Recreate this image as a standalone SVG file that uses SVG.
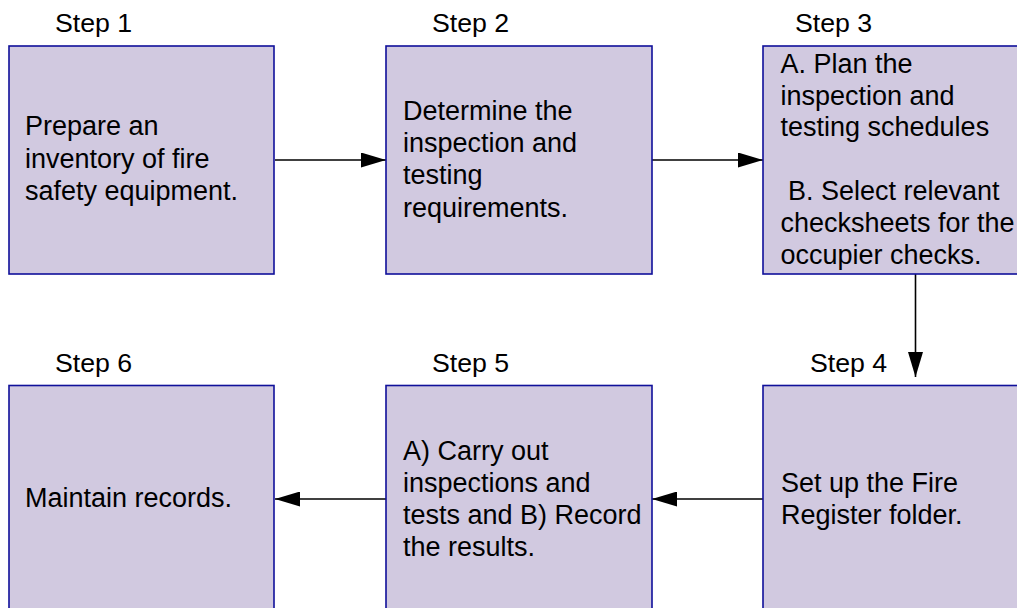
<svg xmlns="http://www.w3.org/2000/svg" width="1017" height="608" viewBox="0 0 1017 608">
<style>
.box{fill:#D1C9E0;stroke:#10109A;stroke-width:1.6}
.t{font-family:"Liberation Sans",Arial,sans-serif;font-size:27px;fill:#000}
.l{font-family:"Liberation Sans",Arial,sans-serif;font-size:26.7px;fill:#000}
.c{stroke:#000;stroke-width:1.6;fill:none}
</style>
<defs>
<marker id="ah" markerWidth="25" markerHeight="15" refX="25" refY="7.5" orient="auto" markerUnits="userSpaceOnUse">
<path d="M0,0 L25,7.5 L0,15 Z" fill="#000"/>
</marker>
</defs>
<rect width="1017" height="608" fill="#fff"/>
<g id="connectors">
<line class="c" x1="275" y1="160" x2="386" y2="160" marker-end="url(#ah)"/>
<line class="c" x1="652" y1="160" x2="763" y2="160" marker-end="url(#ah)"/>
<line class="c" x1="915.5" y1="274" x2="915.5" y2="377" marker-end="url(#ah)"/>
<line class="c" x1="763" y1="499" x2="652" y2="499" marker-end="url(#ah)"/>
<line class="c" x1="386" y1="499" x2="275" y2="499" marker-end="url(#ah)"/>
</g>
<g id="step1">
<text class="l" x="55" y="32">Step 1</text>
<rect class="box" x="9" y="46" width="265" height="228"/>
<text class="t" x="25" y="135">Prepare an</text>
<text class="t" x="25" y="167.5">inventory of fire</text>
<text class="t" x="25" y="200">safety equipment.</text>
</g>
<g id="step2">
<text class="l" x="432" y="32">Step 2</text>
<rect class="box" x="386" y="46" width="266" height="228"/>
<text class="t" x="403" y="119.5">Determine the</text>
<text class="t" x="403" y="152">inspection and</text>
<text class="t" x="403" y="184">testing</text>
<text class="t" x="403" y="216.5">requirements.</text>
</g>
<g id="step3">
<text class="l" x="795" y="32">Step 3</text>
<rect class="box" x="763" y="46" width="270" height="228"/>
<text class="t" x="780.5" y="72.5">A. Plan the</text>
<text class="t" x="780.5" y="104.5">inspection and</text>
<text class="t" x="780.5" y="136">testing schedules</text>
<text class="t" x="780.5" y="200" xml:space="preserve"> B. Select relevant</text>
<text class="t" x="780.5" y="231.5">checksheets for the</text>
<text class="t" x="780.5" y="263.5">occupier checks.</text>
</g>
<g id="step4">
<text class="l" x="810" y="372">Step 4</text>
<rect class="box" x="763" y="385.5" width="270" height="240"/>
<text class="t" x="781" y="492">Set up the Fire</text>
<text class="t" x="781" y="524">Register folder.</text>
</g>
<g id="step5">
<text class="l" x="432" y="372">Step 5</text>
<rect class="box" x="386" y="385.5" width="266" height="240"/>
<text class="t" x="403" y="459.5">A) Carry out</text>
<text class="t" x="403" y="492">inspections and</text>
<text class="t" x="403" y="524">tests and B) Record</text>
<text class="t" x="403" y="556">the results.</text>
</g>
<g id="step6">
<text class="l" x="55" y="372">Step 6</text>
<rect class="box" x="9" y="385.5" width="265" height="240"/>
<text class="t" x="25" y="507">Maintain records.</text>
</g>
</svg>
